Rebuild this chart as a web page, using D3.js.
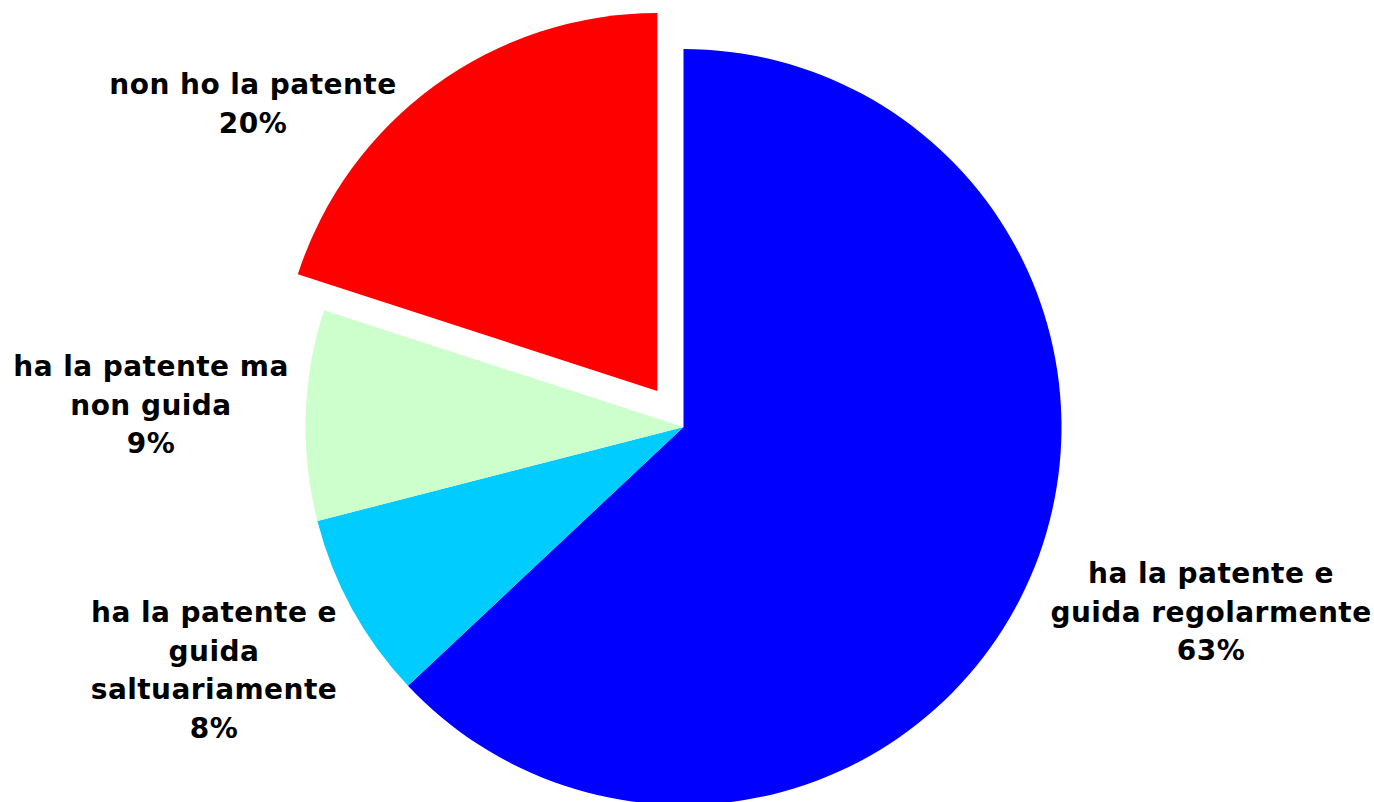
<!DOCTYPE html>
<html>
<head>
<meta charset="utf-8">
<script src="https://cdn.jsdelivr.net/npm/d3@7"></script>
<style>
  html, body { margin: 0; padding: 0; background: #fff; }
  svg text { font-family: "DejaVu Sans", Verdana, sans-serif; font-weight: bold; fill: #000; }
</style>
</head>
<body>
<svg id="chart" width="1374" height="802"></svg>
<script>
const categories = [
  "ha la patente e guida regolarmente",
  "ha la patente e guida saltuariamente",
  "ha la patente ma non guida",
  "non ho la patente"
];
const values = [63, 8, 9, 20];
const labelLines = [
  ["ha la patente e", "guida regolarmente", "63%"],
  ["ha la patente e", "guida", "saltuariamente", "8%"],
  ["ha la patente ma", "non guida", "9%"],
  ["non ho la patente", "20%"]
];
const colors = ["#0000FF", "#00CCFF", "#CCFFCC", "#FF0000"];
const explode = [0, 0, 0, 44.5];
// label anchor: center x, first baseline y
const labelPos = [[1211, 583], [214, 622], [151, 376], [253, 94]];

const svg = d3.select("#chart");
const cx = 683.5, cy = 427, r = 378;
const g = svg.append("g").attr("transform", `translate(${cx},${cy})`);

const pie = d3.pie().sort(null).value(d => d);
const arcs = pie(values);
const arc = d3.arc().innerRadius(0).outerRadius(r);

g.selectAll("path").data(arcs).enter().append("path")
  .attr("d", arc)
  .attr("fill", (d, i) => colors[i])
  .attr("transform", (d, i) => {
    const a = (d.startAngle + d.endAngle) / 2;
    const o = explode[i];
    return `translate(${o * Math.sin(a)},${-o * Math.cos(a)})`;
  });

const fontSize = 28, lineH = 38.5;
labelLines.forEach((lines, i) => {
  const t = svg.append("text")
    .attr("text-anchor", "middle")
    .attr("font-size", fontSize)
    .attr("letter-spacing", 0.45);
  lines.forEach((ln, j) => {
    t.append("tspan")
      .attr("x", labelPos[i][0])
      .attr("y", labelPos[i][1] + j * lineH)
      .text(ln);
  });
});
</script>
</body>
</html>
